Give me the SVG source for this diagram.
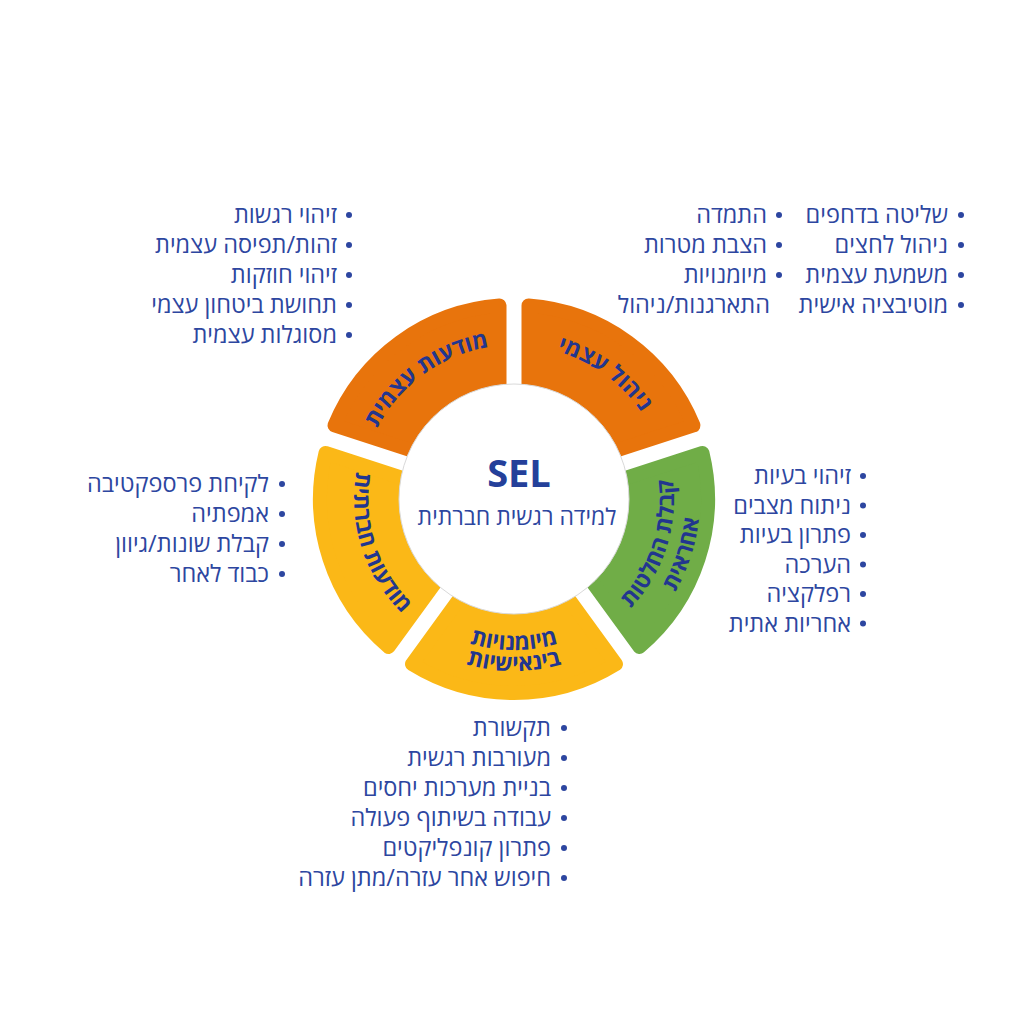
<svg xmlns="http://www.w3.org/2000/svg" xmlns:xlink="http://www.w3.org/1999/xlink" width="1024" height="1024" viewBox="0 0 1024 1024">
<style>
.seg { stroke-width:14; stroke-linejoin:round; }
.orange { fill:#E8740C; stroke:#E8740C; }
.green { fill:#70AD47; stroke:#70AD47; }
.yellow { fill:#FBB817; stroke:#FBB817; }
.lbl { font-family:"Open Sans","Liberation Sans","DejaVu Sans",sans-serif; font-weight:700; font-size:22.5px; fill:#22368F; }
.item { font-family:"Open Sans","Liberation Sans","DejaVu Sans",sans-serif; font-size:23.5px; fill:#2D46A0; text-anchor:end; }
.dot { fill:#2D46A0; }
</style>
<defs>
<path id="segShape" d="M528.50,305.54 A194,194 0 0 1 693.51,425.43 L611.30,452.14 A108,108 0 0 0 528.50,391.98 Z"/>
<path id="arcTL" d="M364.57,461.74 A154,154 0 0 1 524.74,345.38" fill="none"/>
<path id="arcTR" d="M503.26,345.38 A154,154 0 0 1 663.43,461.74" fill="none"/>
<path id="arcG1" d="M598.79,634.69 A160,160 0 0 0 662.35,439.06" fill="none"/>
<path id="arcG2" d="M612.57,656.74 A186,186 0 0 0 686.46,429.32" fill="none"/>
<path id="arcL" d="M365.65,439.06 A160,160 0 0 0 429.21,634.69" fill="none"/>
<path id="arcB1" d="M416.94,614.67 A151,151 0 0 0 611.06,614.67" fill="none"/>
<path id="arcB2" d="M403.44,630.76 A172,172 0 0 0 624.56,630.76" fill="none"/>
</defs>
<rect width="1024" height="1024" fill="#FFFFFF"/>
<g id="connectors"/>

<g id="node-self-management">
<use href="#segShape" class="seg orange"/>
<text class="lbl"><textPath href="#arcTR" startOffset="50%" text-anchor="middle">ניהול עצמי</textPath></text>
<circle class="dot" cx="961" cy="215" r="3"/><text class="item" x="948" y="223">שליטה בדחפים</text>
<circle class="dot" cx="961" cy="245" r="3"/><text class="item" x="948" y="253">ניהול לחצים</text>
<circle class="dot" cx="961" cy="275" r="3"/><text class="item" x="948" y="283">משמעת עצמית</text>
<circle class="dot" cx="961" cy="305" r="3"/><text class="item" x="948" y="313">מוטיבציה אישית</text>
<circle class="dot" cx="779" cy="215" r="3"/><text class="item" x="767" y="223">התמדה</text>
<circle class="dot" cx="779" cy="245" r="3"/><text class="item" x="767" y="253">הצבת מטרות</text>
<circle class="dot" cx="779" cy="275" r="3"/><text class="item" x="767" y="283">מיומנויות</text>
<text class="item" x="770" y="313">התארגנות/ניהול</text>
</g>

<g id="node-responsible-decisions">
<use href="#segShape" class="seg green" transform="rotate(72 514 499)"/>
<text class="lbl"><textPath href="#arcG1" startOffset="50%" text-anchor="middle">קבלת החלטות</textPath></text>
<text class="lbl"><textPath href="#arcG2" startOffset="50%" text-anchor="middle">אחראית</textPath></text>
<circle class="dot" cx="863" cy="476" r="3"/><text class="item" x="851" y="484">זיהוי בעיות</text>
<circle class="dot" cx="863" cy="505.5" r="3"/><text class="item" x="851" y="513.5">ניתוח מצבים</text>
<circle class="dot" cx="863" cy="535" r="3"/><text class="item" x="851" y="543">פתרון בעיות</text>
<circle class="dot" cx="863" cy="564.5" r="3"/><text class="item" x="851" y="572.5">הערכה</text>
<circle class="dot" cx="863" cy="594" r="3"/><text class="item" x="851" y="602">רפלקציה</text>
<circle class="dot" cx="863" cy="623.5" r="3"/><text class="item" x="851" y="631.5">אחריות אתית</text>
</g>

<g id="node-interpersonal-skills">
<use href="#segShape" class="seg yellow" transform="rotate(144 514 499)"/>
<text class="lbl"><textPath href="#arcB1" startOffset="50%" text-anchor="middle">מיומנויות</textPath></text>
<text class="lbl"><textPath href="#arcB2" startOffset="50%" text-anchor="middle">בינאישיות</textPath></text>
<circle class="dot" cx="564" cy="728" r="3"/><text class="item" x="551" y="736">תקשורת</text>
<circle class="dot" cx="564" cy="758" r="3"/><text class="item" x="551" y="766">מעורבות רגשית</text>
<circle class="dot" cx="564" cy="788" r="3"/><text class="item" x="551" y="796">בניית מערכות יחסים</text>
<circle class="dot" cx="564" cy="818" r="3"/><text class="item" x="551" y="826">עבודה בשיתוף פעולה</text>
<circle class="dot" cx="564" cy="848" r="3"/><text class="item" x="551" y="856">פתרון קונפליקטים</text>
<circle class="dot" cx="564" cy="878" r="3"/><text class="item" x="551" y="886">חיפוש אחר עזרה/מתן עזרה</text>
</g>

<g id="node-social-awareness">
<use href="#segShape" class="seg yellow" transform="rotate(216 514 499)"/>
<text class="lbl"><textPath href="#arcL" startOffset="50%" text-anchor="middle">מודעות חברתית</textPath></text>
<circle class="dot" cx="282" cy="484" r="3"/><text class="item" x="269" y="492">לקיחת פרספקטיבה</text>
<circle class="dot" cx="282" cy="514" r="3"/><text class="item" x="269" y="522">אמפתיה</text>
<circle class="dot" cx="282" cy="544" r="3"/><text class="item" x="269" y="552">קבלת שונות/גיוון</text>
<circle class="dot" cx="282" cy="574" r="3"/><text class="item" x="269" y="582">כבוד לאחר</text>
</g>

<g id="node-self-awareness">
<use href="#segShape" class="seg orange" transform="rotate(288 514 499)"/>
<text class="lbl"><textPath href="#arcTL" startOffset="50%" text-anchor="middle">מודעות עצמית</textPath></text>
<circle class="dot" cx="349" cy="215" r="3"/><text class="item" x="337" y="223">זיהוי רגשות</text>
<circle class="dot" cx="349" cy="245" r="3"/><text class="item" x="337" y="253">זהות/תפיסה עצמית</text>
<circle class="dot" cx="349" cy="275" r="3"/><text class="item" x="337" y="283">זיהוי חוזקות</text>
<circle class="dot" cx="349" cy="305" r="3"/><text class="item" x="337" y="313">תחושת ביטחון עצמי</text>
<circle class="dot" cx="349" cy="335" r="3"/><text class="item" x="337" y="343">מסוגלות עצמית</text>
</g>

<g id="node-center">
<circle cx="514" cy="499" r="115" fill="#FFFFFF" stroke="#D9D9D9" stroke-width="1"/>
<text x="519" y="487" text-anchor="middle" font-family="'Open Sans','Liberation Sans',sans-serif" font-weight="700" font-size="38" fill="#24409A">SEL</text>
<text x="517" y="525" text-anchor="middle" font-family="'Open Sans','Liberation Sans','DejaVu Sans',sans-serif" font-size="23" fill="#2D46A0">למידה רגשית חברתית</text>
</g>
</svg>
